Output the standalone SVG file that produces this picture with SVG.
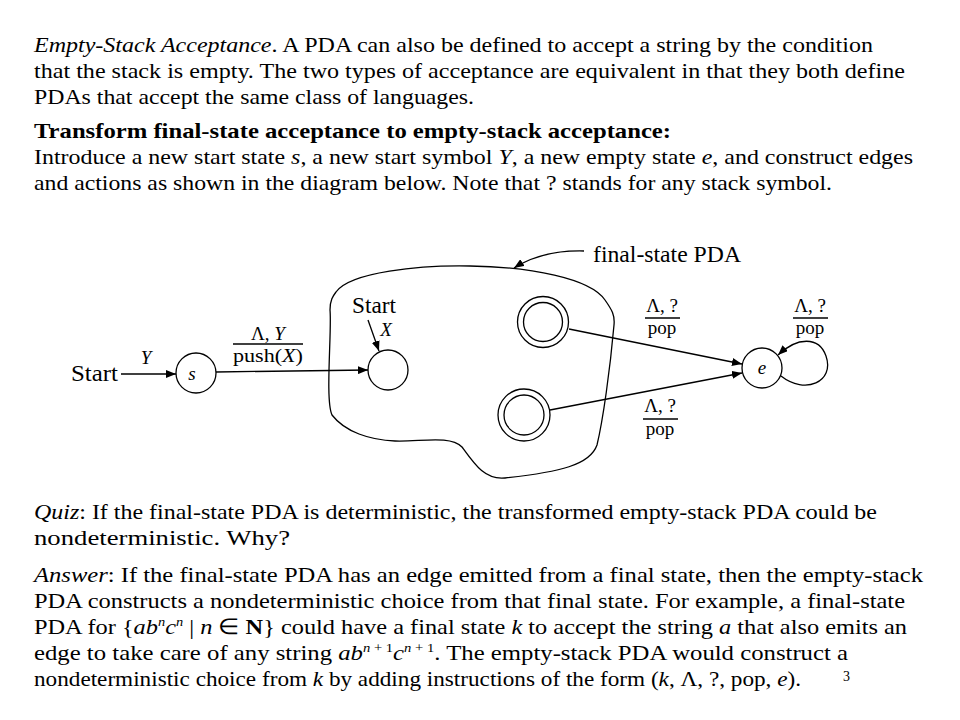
<svg xmlns="http://www.w3.org/2000/svg" width="960" height="720" viewBox="0 0 960 720" font-family="'Liberation Serif', 'Times New Roman', serif">
<defs>
<style>
text{font-family:"Liberation Serif","Times New Roman",serif;fill:#000}
.p{font-size:22px}
.l{font-size:19px}
.i{font-style:italic}
.b{font-weight:bold}
.s{fill:none;stroke:#000;stroke-width:1.3}
.n{fill:#fff;stroke:#000;stroke-width:1.3}
</style>
<marker id="ah" viewBox="0 0 10 8" refX="10" refY="4" markerWidth="10" markerHeight="8" markerUnits="userSpaceOnUse" orient="auto">
<path d="M0,0 L10,4 L0,8 Z" fill="#000"/>
</marker>
</defs>
<rect width="960" height="720" fill="#fff"/>

<g id="paragraph-top">
<text class="p" x="34" y="52" textLength="839" lengthAdjust="spacingAndGlyphs"><tspan class="i">Empty-Stack Acceptance</tspan>. A PDA can also be defined to accept a string by the condition</text>
<text class="p" x="34" y="78" textLength="871" lengthAdjust="spacingAndGlyphs">that the stack is empty. The two types of acceptance are equivalent in that they both define</text>
<text class="p" x="34" y="104" textLength="440" lengthAdjust="spacingAndGlyphs">PDAs that accept the same class of languages.</text>
<text class="p b" x="34" y="138" textLength="637" lengthAdjust="spacingAndGlyphs">Transform final-state acceptance to empty-stack acceptance:</text>
<text class="p" x="34" y="164" textLength="879" lengthAdjust="spacingAndGlyphs">Introduce a new start state <tspan class="i">s</tspan>, a new start symbol <tspan class="i">Y</tspan>, a new empty state <tspan class="i">e</tspan>, and construct edges</text>
<text class="p" x="34" y="190" textLength="798" lengthAdjust="spacingAndGlyphs">and actions as shown in the diagram below. Note that ? stands for any stack symbol.</text>
</g>

<g id="region">
<path class="s" d="M336 292 C350 272 420 265 470 266 C530 267 590 278 605 300 C612 310 615 315 614 325 C610 370 603 420 597 445 C590 465 560 472 505 478 C485 480 475 465 462 447 C450 435 420 442 395 441 C370 440 345 432 332 415 C325 400 332 330 330 310 C330 300 333 296 336 292 Z"/>
</g>

<g id="connectors">
<line class="s" x1="121" y1="374" x2="176" y2="374" marker-end="url(#ah)"/>
<line class="s" x1="216" y1="372" x2="368" y2="370" marker-end="url(#ah)"/>
<line class="s" x1="368" y1="320" x2="379" y2="351" marker-end="url(#ah)"/>
<line class="s" x1="569" y1="329" x2="742" y2="364" marker-end="url(#ah)"/>
<line class="s" x1="550" y1="410" x2="742" y2="373" marker-end="url(#ah)"/>
<path class="s" d="M781 376 C805 395 835 382 826 356 C819 336 797 337 778 355" marker-end="url(#ah)"/>
<path class="s" d="M584 251 Q542 250 514 268" marker-end="url(#ah)"/>
</g>

<g id="node-s">
<circle class="n" cx="196" cy="373" r="20"/>
<text class="i" x="192" y="380" font-size="19" text-anchor="middle">s</text>
</g>
<g id="node-start">
<circle class="n" cx="388" cy="370" r="20"/>
</g>
<g id="node-final1">
<circle class="n" cx="543" cy="322" r="25.5"/>
<circle class="s" cx="543" cy="322" r="19.5"/>
</g>
<g id="node-final2">
<circle class="n" cx="524" cy="415" r="26"/>
<circle class="s" cx="524" cy="415" r="20"/>
</g>
<g id="node-e">
<circle class="n" cx="762" cy="368" r="20"/>
<text class="i" x="762" y="374" font-size="19" text-anchor="middle">e</text>
</g>

<g id="labels">
<text x="71" y="381" font-size="23" textLength="47" lengthAdjust="spacingAndGlyphs">Start</text>
<text class="l i" x="146" y="364" text-anchor="middle">Y</text>
<text x="352" y="313" font-size="23" textLength="44" lengthAdjust="spacingAndGlyphs">Start</text>
<text class="l i" x="386" y="336" text-anchor="middle">X</text>
<text x="593" y="262" font-size="23" textLength="148" lengthAdjust="spacingAndGlyphs">final-state PDA</text>

<text class="l" x="268" y="340" text-anchor="middle">Λ, <tspan class="i">Y</tspan></text>
<line x1="233" y1="344" x2="303" y2="344" stroke="#000" stroke-width="1.5"/>
<text class="l" x="268" y="362" text-anchor="middle" textLength="70" lengthAdjust="spacingAndGlyphs">push(<tspan class="i">X</tspan>)</text>

<text class="l" x="662" y="312" text-anchor="middle">Λ, ?</text>
<line x1="645" y1="318" x2="680" y2="318" stroke="#000" stroke-width="1.5"/>
<text class="l" x="662" y="334" text-anchor="middle">pop</text>

<text class="l" x="810" y="312" text-anchor="middle">Λ, ?</text>
<line x1="793" y1="318" x2="828" y2="318" stroke="#000" stroke-width="1.5"/>
<text class="l" x="810" y="334" text-anchor="middle">pop</text>

<text class="l" x="660" y="412" text-anchor="middle">Λ, ?</text>
<line x1="643" y1="419" x2="678" y2="419" stroke="#000" stroke-width="1.5"/>
<text class="l" x="660" y="435" text-anchor="middle">pop</text>
</g>

<g id="paragraph-bottom">
<text class="p" x="34" y="519" textLength="843" lengthAdjust="spacingAndGlyphs"><tspan class="i">Quiz</tspan>: If the final-state PDA is deterministic, the transformed empty-stack PDA could be</text>
<text class="p" x="34" y="545" textLength="256" lengthAdjust="spacingAndGlyphs">nondeterministic. Why?</text>
<text class="p" x="34" y="582" textLength="889" lengthAdjust="spacingAndGlyphs"><tspan class="i">Answer</tspan>: If the final-state PDA has an edge emitted from a final state, then the empty-stack</text>
<text class="p" x="34" y="608" textLength="871" lengthAdjust="spacingAndGlyphs">PDA constructs a nondeterministic choice from that final state. For example, a final-state</text>
<text class="p" x="34" y="634" textLength="873" lengthAdjust="spacingAndGlyphs">PDA for {<tspan class="i">ab</tspan><tspan class="i" font-size="13" dy="-8">n</tspan><tspan class="i" dy="8">c</tspan><tspan class="i" font-size="13" dy="-8">n</tspan><tspan dy="8"> | </tspan><tspan class="i">n</tspan> ∈ <tspan class="b">N</tspan>} could have a final state <tspan class="i">k</tspan> to accept the string <tspan class="i">a</tspan> that also emits an</text>
<text class="p" x="34" y="660" textLength="814" lengthAdjust="spacingAndGlyphs">edge to take care of any string <tspan class="i">ab</tspan><tspan font-size="13" dy="-8"><tspan class="i">n</tspan> + 1</tspan><tspan class="i" dy="8">c</tspan><tspan font-size="13" dy="-8"><tspan class="i">n</tspan> + 1</tspan><tspan dy="8">. The empty-stack PDA would construct a</tspan></text>
<text class="p" x="34" y="686" textLength="767" lengthAdjust="spacingAndGlyphs">nondeterministic choice from <tspan class="i">k</tspan> by adding instructions of the form (<tspan class="i">k</tspan>, Λ, ?, pop, <tspan class="i">e</tspan>).</text>
<text x="843" y="681" font-size="14">3</text>
</g>
</svg>
